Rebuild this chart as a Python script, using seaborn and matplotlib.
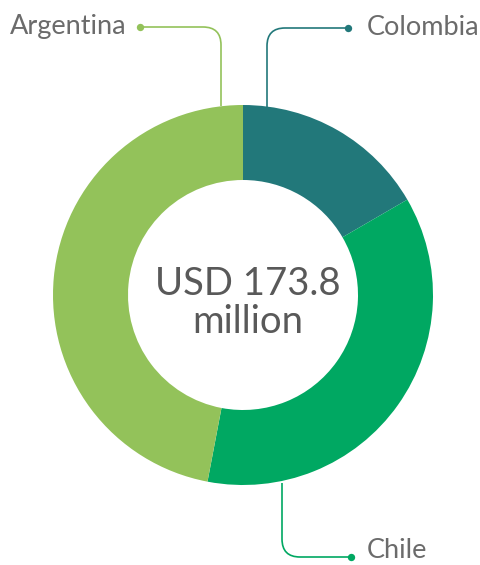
import matplotlib
matplotlib.use("Agg")
import matplotlib.pyplot as plt
import seaborn as sns
from matplotlib.path import Path
from matplotlib.patches import PathPatch

sns.set_theme(style="white")
plt.rcParams['font.family'] = ['Lato', 'DejaVu Sans']

countries = ["Colombia", "Chile", "Argentina"]
values = [28.9, 63.2, 81.7]  # USD million
colors = sns.color_palette(["#22787A", "#00A862", "#93C25A"])
center_lines = ["USD 173.8", "million"]

W, H = 481, 565
fig = plt.figure(figsize=(W / 100, H / 100), dpi=100)
ax = fig.add_axes([0, 0, 1, 1])
ax.set_xlim(0, W)
ax.set_ylim(0, H)
ax.axis("off")

cx, cy = 243, H - 295
R, r = 190, 115
ax.pie(values, colors=colors, startangle=90, counterclock=False,
       radius=R, center=(cx, cy),
       wedgeprops=dict(width=R - r, linewidth=0))
ax.set_xlim(0, W)
ax.set_ylim(0, H)
ax.set_aspect("equal")

ax.text(248, H - 284, center_lines[0], ha="center", va="center",
        fontsize=27.5, color="#595959")
ax.text(248, H - 322, center_lines[1], ha="center", va="center",
        fontsize=27.5, color="#595959")


def leader(points_px, color, label, label_xy, ha, va="center"):
    (x0, y0), (xc, yc), (x1, y1) = points_px
    rad = 18
    sx = 1 if x1 > xc else -1
    sy = 1 if yc > y0 else -1
    verts = [(x0, y0), (xc, yc - sy * rad), (xc, yc), (xc + sx * rad, yc), (x1, y1)]
    codes = [Path.MOVETO, Path.LINETO, Path.CURVE3, Path.CURVE3, Path.LINETO]
    verts = [(x, H - y) for x, y in verts]
    ax.add_patch(PathPatch(Path(verts, codes), fill=False, edgecolor=color, lw=1.2))
    ax.scatter([x1], [H - y1], s=28, color=color, zorder=5, linewidths=0)
    ax.text(label_xy[0], H - label_xy[1], label, ha=ha, va=va,
            fontsize=19.5, color="#6B6B6B")


leader([(221, 106), (221, 27), (140, 27)], colors[2], countries[2], (127, 26), "right")
leader([(267, 108), (267, 28), (348, 28)], colors[0], countries[0], (367, 27), "left")
leader([(282, 483), (282, 557), (351, 557)], colors[1], countries[1], (367, 558), "left", "baseline")

fig.savefig("out.png", dpi=100)
